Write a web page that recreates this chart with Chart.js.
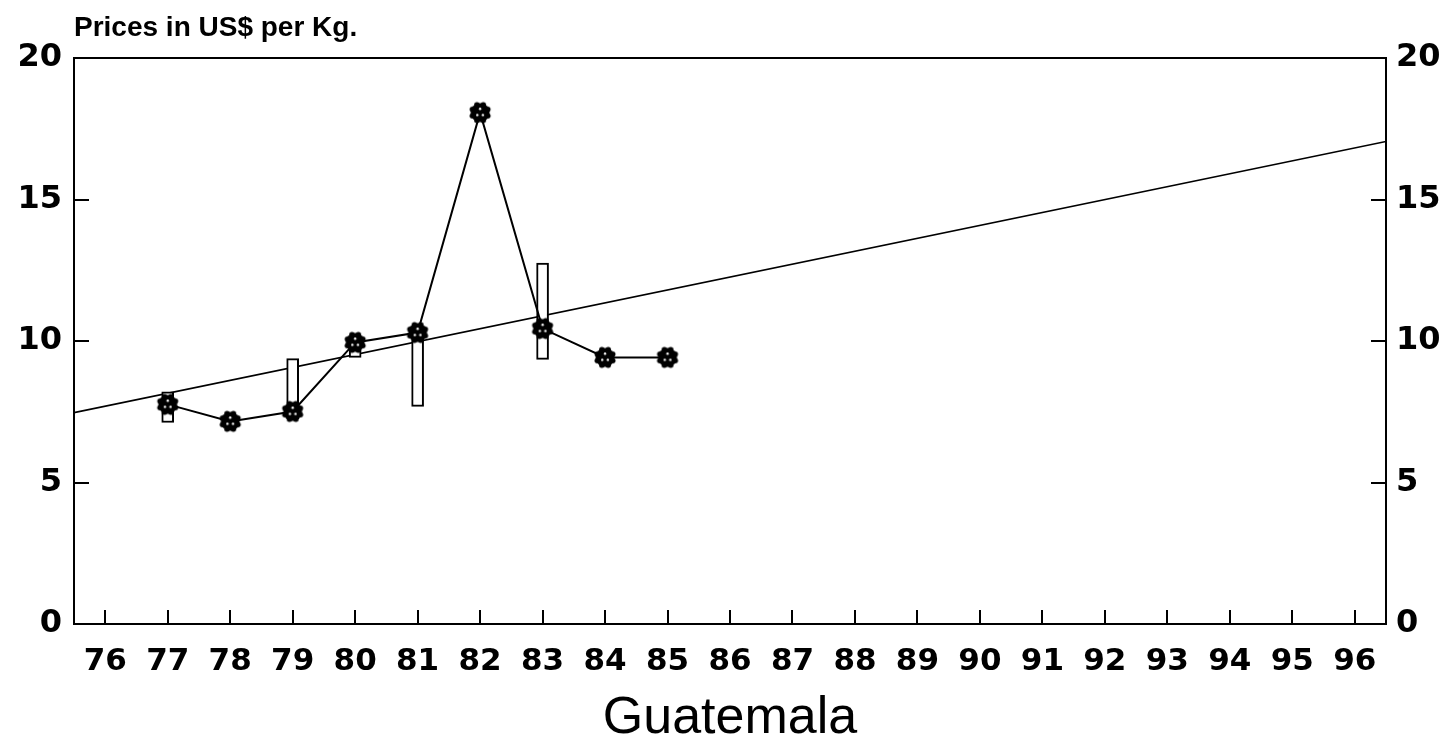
<!DOCTYPE html>
<html>
<head>
<meta charset="utf-8">
<script src="https://cdn.jsdelivr.net/npm/chart.js@4.4.1/dist/chart.umd.min.js"></script>
<style>
html,body{margin:0;padding:0;background:#fff;}
canvas{display:block;}
</style>
</head>
<body>
<canvas id="c" width="1455" height="748"></canvas>
<script>
// ---- data ----
const years = ['76','77','78','79','80','81','82','83','84','85','86','87','88','89','90','91','92','93','94','95','96'];
const priceValues = [null, 7.76, 7.16, 7.51, 9.95, 10.3, 18.07, 10.44, 9.42, 9.42, null, null, null, null, null, null, null, null, null, null, null];
const rangeLow  = [null, 7.12, null, 7.25, 9.42, 7.69, null, 9.35, null, null, null, null, null, null, null, null, null, null, null, null, null];
const rangeHigh = [null, 8.20, null, 9.38, 9.90, 10.40, null, 12.75, null, null, null, null, null, null, null, null, null, null, null, null, null];
const trendStart = 7.47;   // value at the left edge of the plot
const trendEnd = 17.05;    // value at the right edge of the plot
const yTicks = [0, 5, 10, 15, 20];
const titleText = 'Prices in US$ per Kg.';
const xTitleText = 'Guatemala';

const rangeData = rangeLow.map((lo, i) => (lo === null ? null : [lo, rangeHigh[i]]));

// marker symbol: black scalloped disc with small white dots
function makeMarker() {
  const c = document.createElement('canvas');
  c.width = 26; c.height = 26;
  const g = c.getContext('2d');
  g.fillStyle = '#000';
  g.beginPath(); g.arc(13, 13, 9.5, 0, Math.PI * 2); g.fill();
  for (let k = 0; k < 8; k++) {
    const a = k * Math.PI / 4 + Math.PI / 8;
    g.beginPath(); g.arc(13 + Math.cos(a) * 8.3, 13 + Math.sin(a) * 8.3, 2.8, 0, Math.PI * 2); g.fill();
  }
  g.fillStyle = '#fff';
  [[0, -3.8], [-2.8, 2.4], [2.8, 2.4]].forEach(([dx, dy]) => {
    g.beginPath(); g.arc(13 + dx, 13 + dy, 1.2, 0, Math.PI * 2); g.fill();
  });
  return c;
}
const marker = makeMarker();

const FONT = "'Liberation Sans', Arial, sans-serif";
const TICKFONT = "'DejaVu Sans', sans-serif";

const framePlugin = {
  id: 'frame',
  afterDatasetsDraw(chart) {
    const { ctx, chartArea: a } = chart;
    const x = chart.scales.x, y = chart.scales.y;
    ctx.save();
    ctx.strokeStyle = '#000';
    ctx.lineWidth = 2;
    ctx.strokeRect(a.left, a.top, a.right - a.left, a.bottom - a.top);
    ctx.beginPath();
    x.ticks.forEach((t, i) => {
      const px = Math.round(x.getPixelForTick(i));
      ctx.moveTo(px, a.bottom); ctx.lineTo(px, a.bottom - 14);
    });
    y.ticks.forEach((t) => {
      if (t.value <= 0 || t.value >= 20) return;
      const py = Math.round(y.getPixelForValue(t.value));
      ctx.moveTo(a.left, py); ctx.lineTo(a.left + 15, py);
      ctx.moveTo(a.right, py); ctx.lineTo(a.right - 15, py);
    });
    ctx.stroke();
    ctx.restore();
  }
};

new Chart(document.getElementById('c'), {
  type: 'bar',
  data: {
    labels: years,
    datasets: [
      {
        type: 'line',
        data: priceValues,
        borderColor: '#000',
        borderWidth: 2,
        tension: 0,
        pointStyle: marker,
        pointRadius: 11,
        spanGaps: false,
        order: 0
      },
      {
        type: 'bar',
        data: rangeData,
        backgroundColor: '#fff',
        borderColor: '#000',
        borderWidth: 2,
        borderSkipped: false,
        barThickness: 12,
        grouped: false,
        order: 1
      },
      {
        type: 'line',
        xAxisID: 'xt',
        data: [{ x: -0.5, y: trendStart }, { x: 20.5, y: trendEnd }],
        borderColor: '#000',
        borderWidth: 1.6,
        pointRadius: 0,
        tension: 0,
        order: 2
      }
    ]
  },
  options: {
    responsive: false,
    animation: false,
    devicePixelRatio: 1,
    layout: { padding: 0 },
    plugins: {
      legend: { display: false },
      tooltip: { enabled: false },
      title: {
        display: true,
        text: titleText,
        align: 'start',
        fullSize: false,
        color: '#000',
        font: { family: FONT, size: 28, weight: 'bold' },
        padding: { top: 11, bottom: 13.4 }
      }
    },
    scales: {
      x: {
        type: 'category',
        offset: true,
        grid: { display: false, drawTicks: false },
        border: { display: false },
        ticks: {
          color: '#000',
          font: { family: TICKFONT, size: 31, weight: 'bold' },
          padding: 19,
          maxRotation: 0,
          autoSkip: false
        },
        title: {
          display: true,
          text: xTitleText,
          color: '#000',
          font: { family: FONT, size: 52 },
          padding: { top: 0, bottom: -2 }
        },
        afterFit(s) { s.height = 124; }
      },
      xt: {
        type: 'linear',
        display: false,
        offset: false,
        grid: { offset: false },
        min: -0.5,
        max: 20.5
      },
      y: {
        position: 'left',
        min: 0, max: 20,
        afterBuildTicks(s) { s.ticks = yTicks.map(v => ({ value: v })); },
        grid: { display: false, drawTicks: false },
        border: { display: false },
        ticks: {
          color: '#000',
          font: { family: TICKFONT, size: 32, weight: 'bold' },
          padding: 12
        },
        afterFit(s) { s.width = 74; }
      },
      y2: {
        position: 'right',
        min: 0, max: 20,
        afterBuildTicks(s) { s.ticks = yTicks.map(v => ({ value: v })); },
        grid: { display: false, drawTicks: false },
        border: { display: false },
        ticks: {
          color: '#000',
          font: { family: TICKFONT, size: 32, weight: 'bold' },
          padding: 10
        },
        afterFit(s) { s.width = 69; }
      }
    }
  },
  plugins: [framePlugin]
});
</script>
</body>
</html>
